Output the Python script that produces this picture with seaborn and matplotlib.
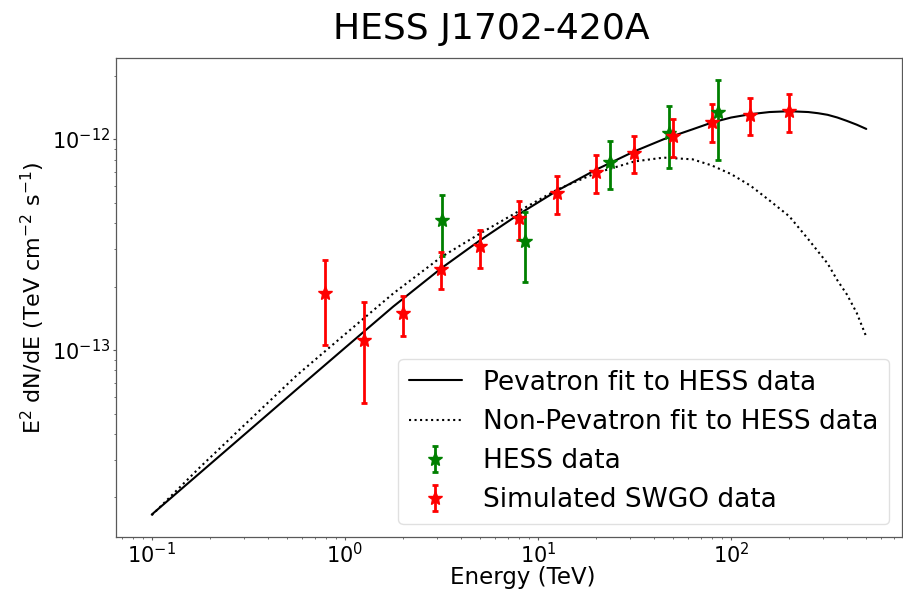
import matplotlib
matplotlib.use("Agg")
import matplotlib.pyplot as plt
from matplotlib.ticker import FixedLocator
import numpy as np
import seaborn as sns

# Model spectra, E^2 dN/dE in TeV cm^-2 s^-1, against energy in TeV
energy_model = [0.1, 0.178, 0.316, 0.562, 1.0, 1.78, 3.16, 5.01, 7.94, 12.6,
                20.0, 31.6, 44.7, 63.1, 79.4, 100.0, 126.0, 158.0, 200.0,
                251.0, 282.0, 316.0, 355.0, 398.0, 447.0, 501.0]
pevatron_flux = [1.660e-14, 2.618e-14, 4.121e-14, 6.501e-14, 1.023e-13,
                 1.607e-13, 2.443e-13, 3.311e-13, 4.395e-13, 5.702e-13,
                 7.161e-13, 8.750e-13, 9.977e-13, 1.112e-12, 1.197e-12,
                 1.265e-12, 1.312e-12, 1.343e-12, 1.355e-12, 1.343e-12,
                 1.326e-12, 1.303e-12, 1.265e-12, 1.219e-12, 1.170e-12,
                 1.117e-12]
non_pevatron_flux = [1.648e-14, 2.786e-14, 4.592e-14, 7.568e-14, 1.186e-13,
                     1.854e-13, 2.761e-13, 3.565e-13, 4.550e-13, 5.768e-13,
                     6.902e-13, 7.834e-13, 8.166e-13, 8.017e-13, 7.499e-13,
                     6.823e-13, 6.012e-13, 5.117e-13, 4.305e-13, 3.350e-13,
                     2.930e-13, 2.570e-13, 2.140e-13, 1.832e-13, 1.500e-13,
                     1.156e-13]

# HESS measurements (flux with lower / upper error-bar ends)
hess_energy = [3.17, 8.6, 23.5, 47.7, 86.0]
hess_flux = [4.12e-13, 3.27e-13, 7.75e-13, 1.07e-12, 1.34e-12]
hess_low = [2.78e-13, 2.09e-13, 5.77e-13, 7.33e-13, 7.94e-13]
hess_high = [5.46e-13, 4.50e-13, 9.82e-13, 1.44e-12, 1.91e-12]

# Simulated SWGO measurements
swgo_energy = [0.79, 1.26, 2.0, 3.16, 5.0, 7.94, 12.6, 20.0, 31.6, 50.1,
               79.4, 126.0, 200.0]
swgo_flux = [1.86e-13, 1.12e-13, 1.49e-13, 2.43e-13, 3.10e-13, 4.22e-13,
             5.54e-13, 7.00e-13, 8.55e-13, 1.03e-12, 1.20e-12, 1.30e-12,
             1.36e-12]
swgo_low = [1.06e-13, 5.6e-14, 1.17e-13, 1.95e-13, 2.45e-13, 3.34e-13,
            4.42e-13, 5.56e-13, 6.87e-13, 8.24e-13, 9.64e-13, 1.045e-12,
            1.08e-12]
swgo_high = [2.68e-13, 1.68e-13, 1.81e-13, 2.93e-13, 3.72e-13, 5.07e-13,
             6.67e-13, 8.39e-13, 1.03e-12, 1.25e-12, 1.46e-12, 1.57e-12,
             1.64e-12]

# Decades labelled on each axis
x_major_ticks = [0.1, 1.0, 10.0, 100.0]
y_major_ticks = [1e-13, 1e-12]

sns.set_style("ticks")
plt.rcParams["font.family"] = ["DejaVu Sans"]
plt.rcParams.update({
    "text.color": "black",
    "axes.labelcolor": "black",
    "axes.edgecolor": "0.35",
    "axes.linewidth": 0.9,
    "xtick.color": "0.35",
    "ytick.color": "0.35",
    "xtick.labelcolor": "black",
    "ytick.labelcolor": "black",
    "xtick.major.size": 2.5,
    "ytick.major.size": 2.5,
    "xtick.minor.size": 1.5,
    "ytick.minor.size": 1.5,
    "xtick.major.pad": 0.8,
    "ytick.major.pad": 1.5,
    "legend.fancybox": True,
})

fig = plt.figure(figsize=(9.04, 5.90), dpi=100)
ax = fig.add_axes([116 / 904, 53 / 590, 786 / 904, 479 / 590])
ax.set_xscale("log")
ax.set_yscale("log")

sns.lineplot(x=energy_model, y=pevatron_flux, color="black", linewidth=1.5,
             ax=ax, label="Pevatron fit to HESS data")
sns.lineplot(x=energy_model, y=non_pevatron_flux, color="black",
             linewidth=1.5, linestyle=":", ax=ax,
             label="Non-Pevatron fit to HESS data")


def asym_err(flux, low, high):
    f = np.asarray(flux)
    return [f - np.asarray(low), np.asarray(high) - f]


ax.errorbar(hess_energy, hess_flux, yerr=asym_err(hess_flux, hess_low, hess_high),
            fmt="*", color="green", markersize=10, elinewidth=2,
            capsize=2, capthick=2, label="HESS data")
ax.errorbar(swgo_energy, swgo_flux, yerr=asym_err(swgo_flux, swgo_low, swgo_high),
            fmt="*", color="red", markersize=10, elinewidth=2,
            capsize=2, capthick=2, label="Simulated SWGO data")

ax.xaxis.set_major_locator(FixedLocator(x_major_ticks))
ax.yaxis.set_major_locator(FixedLocator(y_major_ticks))

ax.set_title("HESS J1702-420A", fontsize=26, pad=14, x=0.478)
ax.set_xlabel("Energy (TeV)", fontsize=16.5)
ax.xaxis.set_label_coords(0.518, -0.061)
ax.set_ylabel(r"E$^2$ dN/dE (TeV cm$^{-2}$ s$^{-1}$)", fontsize=16,
              labelpad=4)
ax.tick_params(axis="both", which="major", labelsize=15)

ax.legend(loc="lower right", fontsize=19, framealpha=0.8, edgecolor="0.85")

fig.savefig("out.png", dpi=100)
